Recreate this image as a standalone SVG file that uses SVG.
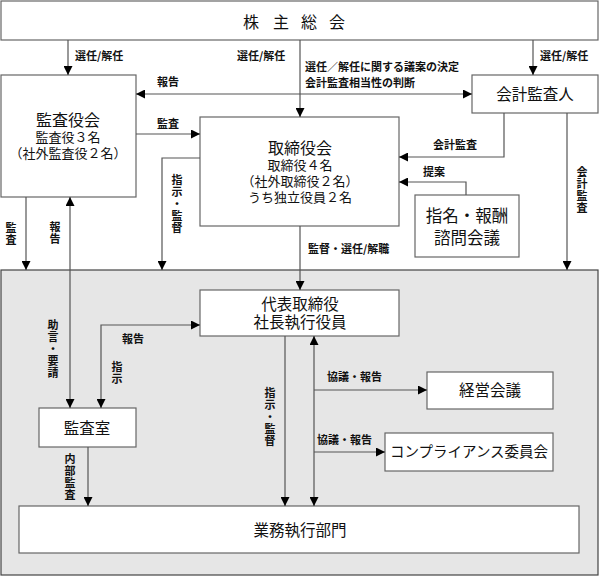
<svg xmlns="http://www.w3.org/2000/svg" width="599" height="577" viewBox="0 0 599 577">
<style>
.box{fill:#fff;stroke:#666;stroke-width:1.2}
.t{font-family:"Noto Sans CJK JP","Noto Sans CJK SC",sans-serif;fill:#111;text-anchor:middle}
.l{font-family:"Noto Sans CJK JP","Noto Sans CJK SC",sans-serif;fill:#111;font-size:11px;font-weight:bold}
.v{font-family:"Noto Sans CJK JP","Noto Sans CJK SC",sans-serif;fill:#111;font-size:11px;font-weight:bold;writing-mode:vertical-rl;text-orientation:upright;letter-spacing:1px}
.c{fill:none;stroke:#555;stroke-width:1.2}
</style>
<defs>
<marker id="ah" viewBox="0 0 10 10" refX="10" refY="5" markerWidth="9" markerHeight="9" markerUnits="userSpaceOnUse" orient="auto-start-reverse">
<path d="M0,0 L10,5 L0,10 z" fill="#000"/>
</marker>
</defs>
<rect x="1" y="270" width="597" height="305" fill="#e6e6e6" stroke="#444" stroke-width="1.2"/>
<g id="shareholders">
<rect class="box" x="1" y="1" width="597" height="39"/>
<text class="t" font-size="16" x="251 281 309 337" y="28">株主総会</text>
</g>
<g id="kansayakukai">
<rect class="box" x="1" y="75" width="135" height="122"/>
<text class="t"><tspan font-size="16" x="68" y="126">監査役会</tspan><tspan font-size="13" x="68" y="142">監査役３名</tspan><tspan font-size="13" x="68" y="158">（社外監査役２名）</tspan></text>
</g>
<g id="torishimariyakukai">
<rect class="box" x="200" y="117" width="199" height="109"/>
<text class="t"><tspan font-size="16" x="300" y="154">取締役会</tspan><tspan font-size="13" x="300" y="170">取締役４名</tspan><tspan font-size="13" x="300" y="186">（社外取締役２名）</tspan><tspan font-size="13" x="300" y="202">うち独立役員２名</tspan></text>
</g>
<g id="kaikeikansanin">
<rect class="box" x="472" y="75" width="126" height="38"/>
<text class="t" font-size="15.5" x="535" y="100">会計監査人</text>
</g>
<g id="shimei">
<rect class="box" x="415" y="195" width="104" height="62"/>
<text class="t" font-size="16.5"><tspan x="467" y="222">指名・報酬</tspan><tspan x="467" y="244">諮問会議</tspan></text>
</g>
<g id="daihyo">
<rect class="box" x="200" y="290" width="199" height="46"/>
<text class="t" font-size="15.5"><tspan x="300" y="310">代表取締役</tspan><tspan x="300" y="328">社長執行役員</tspan></text>
</g>
<g id="kansashitsu">
<rect class="box" x="39" y="408" width="97" height="39"/>
<text class="t" font-size="15.5" x="87" y="434">監査室</text>
</g>
<g id="keieikaigi">
<rect class="box" x="427" y="372" width="126" height="37"/>
<text class="t" font-size="15.5" x="490" y="396">経営会議</text>
</g>
<g id="compliance">
<rect class="box" x="385" y="433" width="168" height="38"/>
<text class="t" font-size="14.5" x="469" y="457">コンプライアンス委員会</text>
</g>
<g id="gyomu">
<rect class="box" x="19" y="506" width="560" height="47"/>
<text class="t" font-size="15.5" x="300" y="536">業務執行部門</text>
</g>
<g id="connectors">
<path class="c" d="M68,40 V75" marker-end="url(#ah)"/>
<path class="c" d="M300,40 V117" marker-end="url(#ah)"/>
<path class="c" d="M533,40 V75" marker-end="url(#ah)"/>
<path class="c" d="M136,94 H472" marker-start="url(#ah)" marker-end="url(#ah)"/>
<path class="c" d="M136,134 H200" marker-end="url(#ah)"/>
<path class="c" d="M200,158 H162 V270" marker-end="url(#ah)"/>
<path class="c" d="M504,113 V157 H399" marker-end="url(#ah)"/>
<path class="c" d="M466,195 V182 H399" marker-end="url(#ah)"/>
<path class="c" d="M567,113 V270" marker-end="url(#ah)"/>
<path class="c" d="M26,197 V270" marker-end="url(#ah)"/>
<path class="c" d="M70,408 V197" marker-start="url(#ah)" marker-end="url(#ah)"/>
<path class="c" d="M300,226 V290" marker-end="url(#ah)"/>
<path class="c" d="M101,408 V325 H200" marker-start="url(#ah)" marker-end="url(#ah)"/>
<path class="c" d="M285,336 V506" marker-end="url(#ah)"/>
<path class="c" d="M314,506 V336" marker-start="url(#ah)" marker-end="url(#ah)"/>
<path class="c" d="M314,390 H427" marker-end="url(#ah)"/>
<path class="c" d="M314,452 H385" marker-end="url(#ah)"/>
<path class="c" d="M88,447 V506" marker-end="url(#ah)"/>
</g>
<g id="labels">
<text class="l" x="75" y="60">選任/解任</text>
<text class="l" x="237" y="60">選任/解任</text>
<text class="l" x="540" y="60">選任/解任</text>
<text class="l"><tspan x="305" y="71">選任／解任に関する議案の決定</tspan><tspan x="305" y="87">会計監査相当性の判断</tspan></text>
<text class="l" x="157" y="86">報告</text>
<text class="l" x="157" y="128">監査</text>
<text class="l" x="433" y="149">会計監査</text>
<text class="l" x="423" y="176">提案</text>
<text class="l" x="308" y="253">監督・選任/解職</text>
<text class="l" x="122" y="343">報告</text>
<text class="l" x="327" y="381">協議・報告</text>
<text class="l" x="317" y="444">協議・報告</text>
<text class="v" x="177" y="174.5">指示・監督</text>
<text class="v" x="11" y="222.5">監査</text>
<text class="v" x="55" y="221.5">報告</text>
<text class="v" x="582" y="166.5">会計監査</text>
<text class="v" x="53" y="319.5">助言・要請</text>
<text class="v" x="117" y="361.5">指示</text>
<text class="v" x="270" y="387.5">指示・監督</text>
<text class="v" x="70" y="453.5">内部監査</text>
</g>
</svg>
